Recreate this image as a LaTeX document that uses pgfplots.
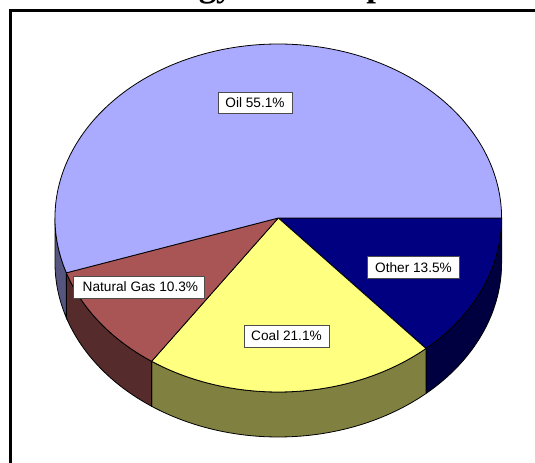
\documentclass[border=0pt]{standalone}
\usepackage{pgfplots}
\usepackage{pgfplotstable}
\pgfplotsset{compat=1.18}
\usepackage{fontspec}
\setmainfont{Liberation Sans}
\newfontfamily\titlefont{Liberation Serif}

\definecolor{oilTop}{RGB}{170,170,255}
\definecolor{oilSide}{RGB}{85,85,128}
\definecolor{gasTop}{RGB}{170,85,85}
\definecolor{gasSide}{RGB}{85,43,43}
\definecolor{coalTop}{RGB}{255,255,128}
\definecolor{coalSide}{RGB}{128,128,64}
\definecolor{otherTop}{RGB}{0,0,128}
\definecolor{otherSide}{RGB}{0,0,64}

\pgfplotstableread[col sep=comma]{
label,value
Other,13.5
Coal,21.1
Natural Gas,10.3
Oil,55.1
}\piedata

\begin{document}
\begin{tikzpicture}
\useasboundingbox (0,0) rectangle (535bp,463bp);
\clip (0,0) rectangle (535bp,463bp);
% cumulative angles (clockwise from 3 o'clock) computed from the data
\pgfplotstablegetelem{0}{value}\of\piedata \pgfmathsetmacro\vA{\pgfplotsretval}
\pgfplotstablegetelem{1}{value}\of\piedata \pgfmathsetmacro\vB{\pgfplotsretval}
\pgfplotstablegetelem{2}{value}\of\piedata \pgfmathsetmacro\vC{\pgfplotsretval}
\pgfplotstablegetelem{3}{value}\of\piedata \pgfmathsetmacro\vD{\pgfplotsretval}
\pgfmathsetmacro\aA{-3.6*\vA}
\pgfmathsetmacro\aB{\aA-3.6*\vB}
\pgfmathsetmacro\aC{\aB-3.6*\vC}
\pgfmathsetmacro\aD{\aC-3.6*\vD}
\def\R{223.3bp and 174bp}
\tikzset{rim/.style={x radius=223.3bp, y radius=174bp}, edge/.style={draw=black, line width=0.8bp}}
\newcommand\side[3]{%
  \filldraw[edge, fill=#3] (axis cs:278.3,245) ++(#1:\R) arc[rim, start angle=#1, end angle=#2] -- ++(0,-45bp) arc[rim, start angle=#2, end angle=#1] -- cycle;}
\newcommand\slice[3]{%
  \filldraw[edge, fill=#3] (axis cs:278.3,245) -- ++(#1:\R) arc[rim, start angle=#1, end angle=#2] -- cycle;}
\begin{axis}[at={(0,0)}, anchor=south west, scale only axis,
  width=535bp, height=463bp, xmin=0, xmax=535, ymin=0, ymax=463,
  hide axis, clip=false]
% side walls (front half only)
\side{0}{\aA}{otherSide}
\side{\aA}{\aB}{coalSide}
\side{\aB}{\aC}{gasSide}
\side{\aC}{-180}{oilSide}
% top faces
\slice{0}{\aA}{otherTop}
\slice{\aA}{\aB}{coalTop}
\slice{\aB}{\aC}{gasTop}
\slice{\aC}{\aD}{oilTop}
% labels
\tikzset{lbl/.style={fill=white, draw=black!70, line width=0.6bp, inner sep=0pt, font=\fontsize{13.7}{15}\selectfont}}
\node[lbl, minimum width=74bp, minimum height=21bp] at (axis cs:255,360.5) {Oil 55.1\%};
\node[lbl, minimum width=131bp, minimum height=22bp] at (axis cs:138.4,176) {\hspace*{4bp}Natural Gas 10.3\%};
\node[lbl, minimum width=85bp, minimum height=22bp] at (axis cs:286.5,127) {Coal 21.1\%};
\node[lbl, minimum width=91.6bp, minimum height=22bp] at (axis cs:413.5,195.3) {Other 13.5\%};
% title (cut off at the top) and frame
\node[anchor=base west, font=\titlefont\bfseries\fontsize{35}{40}\selectfont, inner sep=0pt] at (axis cs:125,466) {Energy Consumption};
\draw[line width=3.5bp] (axis cs:700,452.5) -- (axis cs:10.3,452.5) -- (axis cs:10.3,-100);
\end{axis}
\end{tikzpicture}
\end{document}
